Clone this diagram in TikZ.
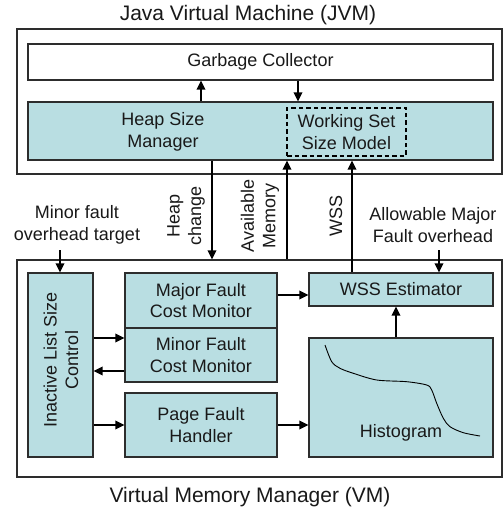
\documentclass[tikz,border=0pt]{standalone}
\usepackage{fontspec}
\setmainfont{Liberation Sans}
\usetikzlibrary{arrows.meta}
\definecolor{boxfill}{RGB}{185,222,226}
\definecolor{edge}{RGB}{45,45,45}
\begin{document}
\begin{tikzpicture}[x=1pt,y=-1pt,
  every node/.style={font=\fontsize{18}{21.5}\selectfont, align=center, inner sep=0pt, text=black!90},
  frame/.style={draw=edge, line width=1.2pt},
  blk/.style={draw=edge, line width=1.2pt, fill=boxfill},
  whiteblk/.style={draw=edge, line width=1.2pt, fill=white},
  dashbox/.style={draw=black, line width=1.1pt, dash pattern=on 4.5pt off 3pt},
  arr/.style={-{Triangle[length=9pt,width=8.5pt]}, line width=1.8pt, draw=black},
  title/.style={font=\fontsize{21}{24}\selectfont}]
\useasboundingbox (0,0) rectangle (503,510);
\fill[white] (0,0) rectangle (503,510);

% titles
\node[title] (jvmtitle) at (248,15) {Java Virtual Machine (JVM)};
\node[title] (vmtitle) at (250,497) {Virtual Memory Manager (VM)};

% JVM
\node[frame, minimum width=485pt, minimum height=145pt] (jvm) at (259.5,101.5) {};
\node[whiteblk, minimum width=465pt, minimum height=36pt] (gc) at (260.5,62) {Garbage Collector};
\node[blk, minimum width=465pt, minimum height=58pt] (hsm) at (260.5,131) {};
\node (hsmtext) at (163,132) {Heap Size\\Manager};
\node[dashbox, minimum width=119pt, minimum height=48pt] (wssm) at (346.5,132) {Working Set\\Size Model};

% VM
\node[frame, minimum width=485pt, minimum height=217pt] (vm) at (259.5,368.5) {};
\node[blk, minimum width=65pt, minimum height=184pt] (ilsc) at (60.5,365) {};
\node[rotate=90] (ilsctext) at (61,360) {Inactive List Size\\Control};
\node[blk, minimum width=152pt, minimum height=55pt] (majf) at (201,300.5) {Major Fault\\Cost Monitor};
\node[blk, minimum width=152pt, minimum height=54pt] (minf) at (201,355) {Minor Fault\\Cost Monitor};
\node[blk, minimum width=152pt, minimum height=64pt] (pfh) at (201,425) {Page Fault\\Handler};
\node[blk, minimum width=184pt, minimum height=33pt] (wsse) at (401,289.5) {WSS Estimator};
\node[blk, minimum width=184pt, minimum height=119pt] (hist) at (401,397.5) {};
\node (histtext) at (401,433) {Histogram};

% histogram curve
\draw[line width=0.9pt] plot[smooth, tension=0.5] coordinates {
  (325,345) (331.7,361.7) (340,368.3) (353.3,373.3) (376.7,380) (406.7,381.7)
  (426.7,385) (431.7,390) (436.7,403.3) (443.3,418.3) (450,426.7) (463.3,432.7) (480,436)};

% external labels
\node (mft) at (77,225) {Minor fault\\overhead target};
\node (amf) at (433,225) {Allowable Major\\Fault overhead};
\node[rotate=90] (hc) at (186,216) {Heap\\change};
\node[rotate=90] (am) at (260,216) {Available\\Memory};
\node[rotate=90] (wsslbl) at (336,216) {WSS};

% helper positions
\coordinate (x201) at (201,0);
\coordinate (x298) at (298,0);
\coordinate (x212) at (212,0);
\coordinate (x287) at (287,0);
\coordinate (x352) at (352,0);
\coordinate (x60) at (60,0);
\coordinate (x439) at (439,0);
\coordinate (x396) at (396,0);
\coordinate (y295) at (0,295);
\coordinate (y338) at (0,338);
\coordinate (y371) at (0,371);
\coordinate (y425) at (0,425);
\coordinate (ms) at (0,250);

% JVM arrows
\draw[arr] (hsm.north -| x201) -- (gc.south -| x201);
\draw[arr] (gc.south -| x298) -- (hsm.north -| x298);

% cross arrows
\draw[arr] (hsm.south -| x212) -- (vm.north -| x212);
\draw[arr] (vm.north -| x287) -- (hsm.south -| x287);
\draw[arr] (wsse.north -| x352) -- (hsm.south -| x352);
\draw[arr] (ms -| x60) -- (ilsc.north -| x60);
\draw[arr] (ms -| x439) -- (wsse.north -| x439);

% VM arrows
\draw[arr] (majf.east |- y295) -- (wsse.west |- y295);
\draw[arr] (hist.north -| x396) -- (wsse.south -| x396);
\draw[arr] (ilsc.east |- y338) -- (minf.west |- y338);
\draw[arr] (minf.west |- y371) -- (ilsc.east |- y371);
\draw[arr] (ilsc.east |- y425) -- (pfh.west |- y425);
\draw[arr] (pfh.east |- y425) -- (hist.west |- y425);
\end{tikzpicture}
\end{document}
